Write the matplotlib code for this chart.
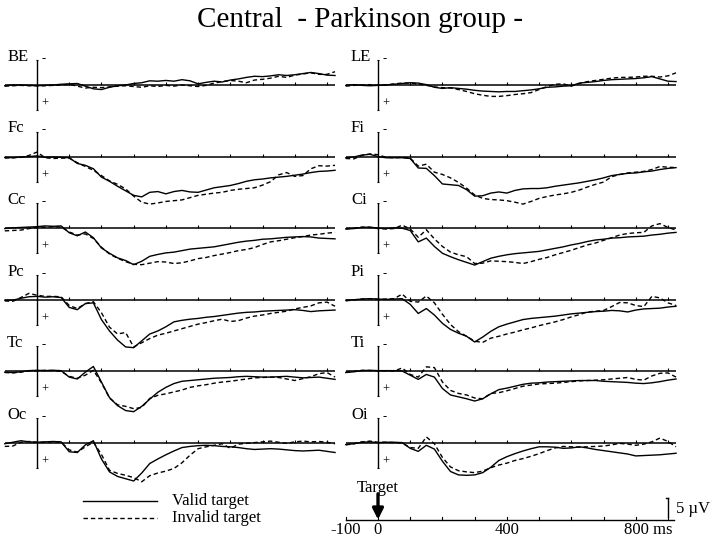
import numpy as np
import matplotlib
matplotlib.use("Agg")
import matplotlib.pyplot as plt
from matplotlib.lines import Line2D

# ---------------- data (µV, negative plotted upward) ----------------
times = np.arange(-100, 926, 25)  # ms

channels_left = ["BE", "Fc", "Cc", "Pc", "Tc", "Oc"]
channels_right = ["LE", "Fi", "Ci", "Pi", "Ti", "Oi"]

BE_valid = [0.2, 0.0, 0.0, 0.1, 0.2, 0.1, 0.0, -0.2, -0.3, -0.4,
            0.3, 1.0, 1.2, 0.6, 0.2, 0.0, -0.4, -0.6, -1.1, -1.0,
            -1.2, -1.0, -1.4, -1.1, -0.3, -0.7, -1.0, -0.8, -1.3, -1.6,
            -2.0, -2.3, -2.2, -2.4, -2.7, -2.5, -2.7, -3.0, -3.3, -3.0,
            -2.6, -2.5]
BE_invalid = [0.3, 0.2, 0.1, 0.2, 0.2, 0.2, 0.1, 0.0, -0.2, 0.3,
              0.8, 0.6, 0.7, 0.5, 0.3, 0.2, 0.4, 0.6, 0.2, 0.4,
              0.1, 0.3, 0.0, 0.2, 0.4, 0.1, -0.5, -0.9, -1.2, -1.0,
              -0.6, -1.3, -1.5, -1.8, -2.3, -2.0, -2.6, -2.9, -3.2, -2.8,
              -2.8, -3.5]
LE_valid = [0.1, -0.1, 0.1, 0.2, 0.1, 0.0, -0.2, -0.4, -0.6, -0.5,
            -0.1, 0.6, 0.9, 0.7, 0.9, 1.1, 1.4, 1.6, 1.7, 1.8,
            1.7, 1.7, 1.5, 1.3, 1.0, 0.6, 0.5, 0.3, 0.2, -0.5,
            -0.7, -0.9, -1.2, -1.4, -1.5, -1.6, -1.7, -1.9, -2.2, -1.6,
            -1.0, -0.9]
LE_invalid = [0.3, 0.1, 0.0, -0.1, 0.1, 0.0, -0.3, -0.5, -0.5, -0.3,
              0.1, 0.5, 0.7, 0.8, 1.2, 1.7, 2.3, 2.7, 3.0, 3.0,
              2.8, 2.5, 2.3, 2.0, 1.2, 0.4, -0.2, -0.3, 0.3, -0.4,
              -0.9, -1.2, -1.5, -1.8, -2.0, -2.0, -2.1, -2.3, -2.3, -2.1,
              -2.4, -3.2]
Fc_valid = [0.2, 0.3, 0.1, 0.0, -0.2, 0.2, 0.1, 0.2, 0.3, 1.8,
            2.3, 3.2, 5.4, 6.5, 7.8, 9.0, 10.2, 10.6, 9.4, 9.2,
            9.8, 9.2, 8.9, 9.3, 9.4, 8.8, 8.2, 7.9, 7.6, 7.1,
            6.5, 6.1, 5.9, 5.6, 5.4, 5.2, 4.9, 4.6, 4.2, 3.9,
            3.8, 3.6]
Fc_invalid = [0.4, 0.3, 0.2, -0.3, -1.2, 0.3, 0.5, 0.4, 0.4, 1.6,
              2.6, 3.6, 5.0, 6.4, 7.3, 8.5, 10.4, 12.0, 12.5, 12.2,
              11.8, 11.6, 11.4, 10.8, 10.2, 9.9, 9.6, 9.4, 8.9, 8.6,
              8.4, 8.2, 7.5, 6.6, 4.8, 4.2, 5.2, 5.0, 3.2, 2.4,
              2.5, 2.3]
Fi_valid = [0.3, 0.1, -0.4, -0.6, 0.0, 0.3, 0.3, 0.3, 0.5, 3.0,
            3.1, 5.0, 7.2, 7.4, 7.6, 8.7, 10.4, 10.3, 9.6, 9.3,
            9.6, 8.9, 8.5, 8.4, 8.4, 8.2, 7.8, 7.5, 7.2, 6.9,
            6.5, 6.1, 5.6, 5.0, 4.7, 4.4, 4.3, 4.0, 3.8, 3.4,
            3.1, 2.9]
Fi_invalid = [0.5, 0.6, -0.3, -0.7, -0.5, 0.2, 0.3, 0.2, 0.4, 2.5,
              2.0, 4.1, 4.7, 5.6, 6.8, 8.3, 10.1, 11.0, 11.3, 11.4,
              11.6, 12.0, 12.5, 11.8, 11.0, 10.5, 10.1, 9.8, 9.4, 8.8,
              8.0, 7.3, 6.7, 5.3, 4.7, 4.3, 4.1, 3.9, 3.4, 2.6,
              2.8, 2.9]
Cc_valid = [0.1, -0.1, -0.2, -0.3, -0.4, -0.6, -0.5, -0.6, 1.2, 2.0,
            1.0, 2.5, 5.2, 6.6, 7.8, 8.5, 9.6, 8.7, 7.4, 6.9,
            6.5, 6.3, 5.9, 5.5, 5.3, 5.1, 4.9, 4.5, 4.1, 3.7,
            3.4, 3.2, 2.9, 2.8, 2.6, 2.4, 2.3, 2.2, 2.3, 2.6,
            2.7, 2.8]
Cc_invalid = [0.7, 0.6, 0.5, 0.1, -0.2, -0.3, -0.4, -0.3, 1.0, 1.8,
              1.5, 2.7, 5.0, 6.8, 7.9, 8.8, 9.5, 9.6, 9.2, 8.8,
              8.9, 9.3, 9.1, 8.6, 8.0, 7.7, 7.2, 6.8, 6.4, 5.9,
              5.6, 5.1, 4.3, 3.6, 3.3, 2.9, 2.5, 2.2, 1.8, 1.6,
              1.3, 1.1]
Ci_valid = [0.2, 0.1, -0.2, -0.3, 0.0, 0.1, -0.1, 0.0, 0.6, 3.6,
            2.6, 4.8, 6.6, 7.5, 8.3, 9.0, 9.7, 8.8, 7.9, 7.4,
            7.0, 6.7, 6.5, 6.3, 6.1, 5.7, 5.3, 4.9, 4.4, 4.0,
            3.5, 3.1, 2.9, 2.6, 2.5, 2.3, 2.2, 2.1, 1.8, 1.6,
            1.3, 1.1]
Ci_invalid = [0.2, 0.0, -0.3, -0.2, 0.1, 0.2, 0.1, -0.8, 0.2, 2.4,
              0.4, 2.8, 4.8, 6.3, 7.0, 7.5, 9.3, 9.2, 8.6, 8.7,
              8.8, 9.0, 9.3, 8.8, 8.2, 7.7, 7.0, 6.4, 5.8, 5.1,
              4.4, 3.9, 3.2, 2.5, 1.8, 1.4, 1.2, 1.1, -0.6, -1.2,
              -0.2, 0.5]
Pc_valid = [0.1, 0.1, -0.4, -0.8, -0.9, -0.7, -0.8, -0.6, 2.0, 2.6,
            1.0, 0.8, 5.2, 8.2, 10.6, 12.4, 12.6, 10.8, 9.0, 8.2,
            7.1, 5.8, 5.4, 5.1, 4.9, 4.6, 4.4, 4.1, 3.8, 3.5,
            3.3, 3.2, 3.0, 2.9, 2.8, 2.7, 2.6, 2.8, 3.1, 2.9,
            2.8, 2.7]
Pc_invalid = [0.3, 0.4, -0.6, -1.7, -1.2, -0.9, -0.9, -0.8, 1.5, 2.3,
              1.0, 0.5, 3.4, 7.2, 9.0, 8.6, 12.4, 11.3, 10.2, 9.3,
              8.8, 8.2, 7.6, 7.0, 6.4, 6.0, 5.5, 5.1, 5.7, 5.5,
              4.8, 4.3, 4.0, 3.6, 3.3, 3.0, 2.4, 2.0, 1.6, 0.8,
              0.6, 1.7]
Pi_valid = [0.1, 0.0, -0.2, -0.3, -0.2, -0.1, -0.2, -0.3, 1.2, 3.6,
            2.3, 4.0, 6.2, 7.8, 8.8, 9.6, 11.1, 9.8, 8.3, 7.1,
            6.4, 5.8, 5.2, 4.9, 4.7, 4.5, 4.3, 4.0, 3.7, 3.5,
            3.3, 3.1, 3.0, 2.8, 2.9, 3.2, 2.7, 2.4, 2.3, 2.2,
            1.9, 1.7]
Pi_invalid = [0.3, 0.0, -0.2, -0.3, -0.1, -0.2, -0.3, -1.5, 0.4, 0.6,
              -1.0, 0.8, 3.8, 6.5, 8.4, 9.6, 10.9, 11.2, 10.1, 9.6,
              9.0, 8.5, 7.9, 7.4, 6.8, 6.3, 5.8, 5.2, 4.5, 3.9,
              3.2, 3.0, 2.8, 1.8, 0.7, 0.8, 1.5, 1.8, -0.9, -0.5,
              0.8, 1.5]
Tc_valid = [0.2, 0.3, 0.1, -0.2, -0.3, -0.2, -0.3, -0.2, 1.5, 2.0,
            0.2, -1.3, 2.8, 6.9, 9.0, 10.3, 10.6, 9.2, 7.3, 5.5,
            4.2, 3.2, 2.6, 2.4, 2.2, 2.0, 1.8, 1.7, 1.6, 1.4,
            1.3, 1.4, 1.5, 1.5, 1.4, 1.3, 1.5, 1.7, 1.6, 1.5,
            1.8, 2.1]
Tc_invalid = [0.3, 0.4, 0.2, -0.2, -0.1, -0.3, -0.2, 0.0, 1.3, 1.8,
              1.0, -0.3, 3.0, 7.0, 8.8, 9.2, 9.8, 9.5, 7.1, 6.3,
              5.9, 5.4, 4.9, 4.2, 3.8, 3.5, 3.1, 2.8, 2.6, 2.3,
              2.0, 1.7, 1.6, 1.5, 1.6, 2.0, 2.4, 1.9, 1.4, 0.6,
              0.3, 1.5]
Ti_valid = [0.3, 0.1, -0.2, -0.3, -0.2, -0.2, -0.2, -0.1, 1.0, 2.1,
            0.8, 1.5, 4.5, 6.2, 6.7, 7.2, 7.8, 7.2, 5.9, 4.8,
            4.4, 3.9, 3.4, 3.1, 3.0, 2.8, 2.7, 2.6, 2.5, 2.4,
            2.4, 2.4, 2.6, 2.7, 2.8, 2.9, 3.1, 3.2, 3.0, 2.7,
            2.3, 2.0]
Ti_invalid = [0.2, 0.0, -0.3, -0.2, -0.1, -0.2, -0.1, -0.9, 0.8, 1.5,
              -1.2, -1.0, 2.8, 5.0, 5.8, 6.2, 7.0, 7.2, 5.8, 5.6,
              5.1, 4.5, 3.9, 3.6, 3.3, 3.2, 3.1, 2.9, 2.7, 2.5,
              2.4, 2.3, 2.2, 2.0, 1.8, 1.6, 2.1, 2.3, 1.2, 0.5,
              0.4, 1.5]
Oc_valid = [0.2, -0.2, -0.6, -0.3, -0.2, -0.3, -0.4, -0.3, 2.3, 2.5,
            0.5, -0.6, 4.2, 7.6, 8.8, 9.4, 10.0, 7.9, 5.4, 4.2,
            3.1, 2.1, 1.2, 0.9, 0.7, 0.6, 0.7, 0.9, 1.0, 1.2,
            1.5, 1.7, 1.6, 1.5, 1.6, 1.8, 2.0, 2.1, 2.0, 1.9,
            2.2, 2.5]
Oc_invalid = [0.9, 0.8, -0.2, -0.4, -0.2, -0.2, -0.3, -0.2, 1.8, 2.4,
              1.0, -0.2, 3.0, 7.2, 8.0, 8.5, 9.1, 10.2, 8.6, 7.9,
              7.4, 6.7, 5.2, 3.2, 1.5, 1.0, 0.6, 0.2, 1.4, 0.3,
              0.1, -0.1, -0.3, -0.5, -0.2, 0.1, -0.3, -0.5, -0.3, -0.4,
              -0.2, 0.2]
Oi_valid = [0.4, 0.2, -0.2, -0.3, -0.1, -0.2, -0.2, -0.1, 1.4, 2.2,
            0.6, 1.6, 4.8, 7.5, 8.4, 8.5, 8.4, 7.8, 6.4, 4.6,
            3.6, 2.8, 2.1, 1.5, 1.0, 1.0, 1.1, 1.4, 1.3, 1.0,
            1.3, 1.7, 2.0, 2.3, 2.6, 2.9, 3.4, 3.3, 3.2, 3.1,
            2.9, 2.7]
Oi_invalid = [0.5, 0.2, -0.3, -0.5, -0.2, -0.2, -0.1, 0.0, 1.2, 1.4,
              -1.6, 0.2, 3.8, 6.3, 7.3, 7.6, 7.8, 7.4, 6.5, 5.8,
              5.3, 4.6, 4.1, 3.5, 2.8, 2.0, 1.3, 0.9, 1.0, 1.1,
              1.0, 0.9, 0.8, 0.5, 0.1, 0.3, 0.6, 0.3, -0.3, -1.3,
              -0.4, 1.0]

waves = {
    "BE": (BE_valid, BE_invalid), "LE": (LE_valid, LE_invalid),
    "Fc": (Fc_valid, Fc_invalid), "Fi": (Fi_valid, Fi_invalid),
    "Cc": (Cc_valid, Cc_invalid), "Ci": (Ci_valid, Ci_invalid),
    "Pc": (Pc_valid, Pc_invalid), "Pi": (Pi_valid, Pi_invalid),
    "Tc": (Tc_valid, Tc_invalid), "Ti": (Ti_valid, Ti_invalid),
    "Oc": (Oc_valid, Oc_invalid), "Oi": (Oi_valid, Oi_invalid),
}

tick_times = [100, 200, 300, 400, 500, 600, 700, 800, 900]
scale_ticks = [-100, 0, 100, 200, 300, 400, 500, 600, 700, 800, 900]
scale_labels = {-100: "-100", 0: "0", 400: "400"}

# ---------------- layout ----------------
SERIF = ["Liberation Serif", "DejaVu Serif"]
W, H = 720, 542
fig = plt.figure(figsize=(W / 100, H / 100), dpi=100)
PX_MS = 0.3222
PX_UV = 3.8
XLIM = (-110, 940)
YTOP, YBOT = -9.0, 14.0
DASH = (0, (3.2, 2.1))


def panel_axes(zero_x, base_y):
    left = zero_x + XLIM[0] * PX_MS
    width = (XLIM[1] - XLIM[0]) * PX_MS
    top = base_y + YTOP * PX_UV
    height = (YBOT - YTOP) * PX_UV
    ax = fig.add_axes([left / W, 1 - (top + height) / H, width / W, height / H])
    ax.set_xlim(*XLIM)
    ax.set_ylim(YBOT, YTOP)
    ax.axis("off")
    return ax


col_zero = [37, 378]
label_t = [-93, -84]
for c, names in enumerate([channels_left, channels_right]):
    for r, name in enumerate(names):
        base = 85 + r * 71.6
        ax = panel_axes(col_zero[c], base)
        k = dict(color="black", clip_on=False, solid_capstyle="butt")
        ax.plot([-100, 925], [0, 0], lw=1.1, **k)
        for t in tick_times:
            ax.plot([t, t], [0, -0.8], lw=0.8, **k)
        ax.plot([0, 0], [-6.6, 6.6], lw=1.0, **k)
        ax.plot([-4, 4], [-6.6, -6.6], lw=0.8, **k)
        ax.plot([-4, 4], [6.6, 6.6], lw=0.8, **k)
        ax.text(14, -6.9, "-", fontsize=9, family=SERIF, ha="left", va="center")
        ax.text(14, 4.9, "+", fontsize=9, family=SERIF, ha="left", va="center")
        ax.text(label_t[c], -7.4, name, fontsize=12, family=SERIF,
                ha="left", va="center")
        v, inv = waves[name]
        ax.plot(times, v, color="black", lw=1.0, clip_on=False)
        ax.plot(times, inv, color="black", lw=1.0, linestyle=DASH, clip_on=False)

# bottom time / amplitude scale
axs = panel_axes(378, 520)
k = dict(color="black", clip_on=False)
axs.plot([-100, 918], [0, 0], lw=1.0, **k)
for t in scale_ticks:
    axs.plot([t, t], [0, -0.7], lw=0.8, **k)
for t, s in scale_labels.items():
    axs.text(t, 2.7, s, fontsize=12, family=SERIF, ha="center", va="center")
axs.text(764, 2.7, "800 ms", fontsize=12, family=SERIF, ha="left", va="center")
axs.plot([900, 900], [-5.8, -0.8], lw=1.0, **k)
axs.plot([893, 900], [-5.8, -5.8], lw=1.0, **k)
axs.text(926, -2.8, "5 µV", fontsize=12, family=SERIF, ha="left", va="center")
axs.text(0, -8.3, "Target", fontsize=12, family=SERIF, ha="center", va="center")
axs.annotate("", xy=(0, -0.1), xytext=(0, -6.9),
             arrowprops=dict(arrowstyle="-|>", lw=2.4, color="black",
                             mutation_scale=16, shrinkA=0, shrinkB=0))

# legend
for y, ls, lab in [(501, "-", "Valid target"), (518, DASH, "Invalid target")]:
    fig.add_artist(Line2D([83 / W, 157 / W], [1 - y / H, 1 - y / H],
                          transform=fig.transFigure, color="black", lw=1.0,
                          linestyle=ls))
    fig.text(172 / W, 1 - y / H, lab, fontsize=12, family=SERIF,
             ha="left", va="center")

fig.text(0.5, 1 - 20 / H, "Central  - Parkinson group -", fontsize=21,
         family=SERIF, ha="center", va="center")

fig.savefig("out.png", dpi=100, facecolor="white")
